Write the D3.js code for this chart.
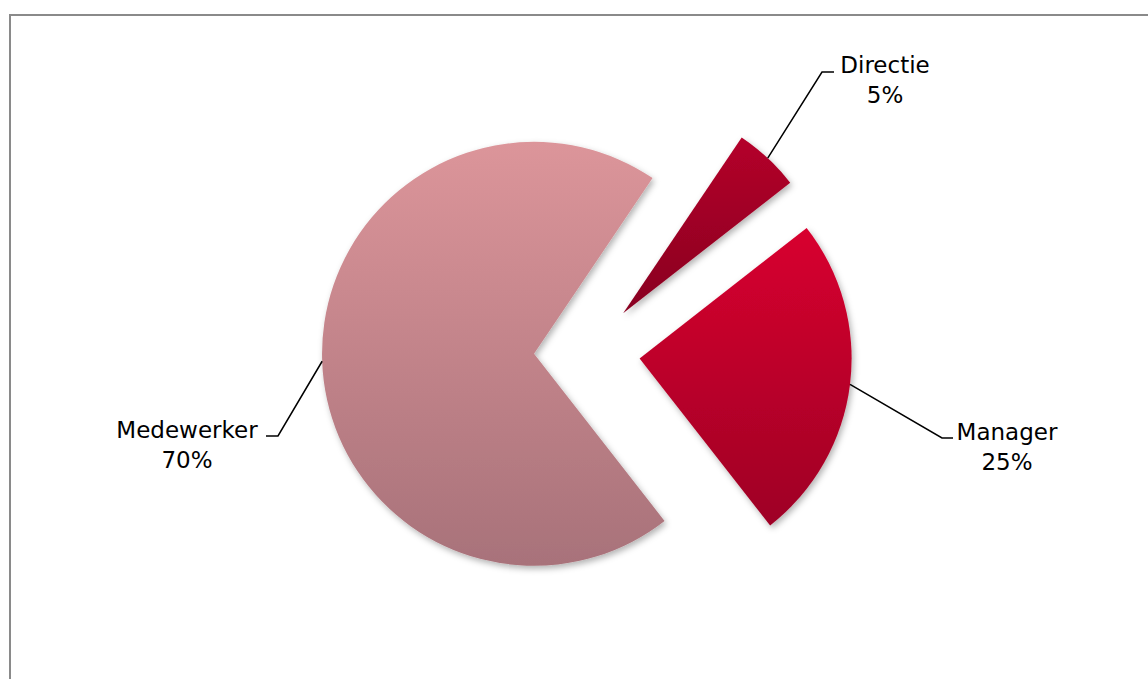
<!DOCTYPE html>
<html>
<head>
<meta charset="utf-8">
<script src="https://cdn.jsdelivr.net/npm/d3@7/dist/d3.min.js"></script>
<style>
  html, body { margin: 0; padding: 0; background: #fff; }
  svg { display: block; }
  text { font-family: "DejaVu Sans", Verdana, sans-serif; fill: #000; }
</style>
</head>
<body>
<svg id="chart" width="1148" height="679"></svg>
<script>
// ---- data ----
const categories = ["Directie", "Manager", "Medewerker"];
const values = [5, 25, 70];
const percentLabels = ["5%", "25%", "70%"];

// ---- styles / layout (not data) ----
const gradTop = ["#b4002a", "#d8002f", "#dc959a"];
const gradBottom = ["#880020", "#9e0025", "#a8727a"];
const labelPos = [
  { x: 885, y: 73, elbow: [[822, 72], [834, 72]] },
  { x: 1007, y: 440, elbow: [[942, 438], [953, 438]] },
  { x: 187, y: 438, elbow: [[278, 436], [266, 436]] }
];

const svg = d3.select("#chart");
const cx = 587, cy = 352, R = 212, explode = 53;
const startDeg = 34;

// border
svg.append("rect")
  .attr("x", 10).attr("y", 15)
  .attr("width", 1150).attr("height", 700)
  .attr("fill", "#fff")
  .attr("stroke", "#8a8a8a")
  .attr("stroke-width", 2);

const defs = svg.append("defs");
const f = defs.append("filter").attr("id", "shadow")
  .attr("x", "-20%").attr("y", "-20%").attr("width", "140%").attr("height", "140%");
f.append("feDropShadow").attr("dx", 2).attr("dy", 3).attr("stdDeviation", 3)
  .attr("flood-color", "#000").attr("flood-opacity", 0.3);

categories.forEach((c, i) => {
  const g = defs.append("linearGradient").attr("id", "grad" + i)
    .attr("x1", 0).attr("y1", 0).attr("x2", 0).attr("y2", 1);
  g.append("stop").attr("offset", "0%").attr("stop-color", gradTop[i]);
  g.append("stop").attr("offset", "100%").attr("stop-color", gradBottom[i]);
});

const pie = d3.pie().sort(null)
  .startAngle(startDeg * Math.PI / 180)
  .endAngle(startDeg * Math.PI / 180 + 2 * Math.PI);
const arcs = pie(values);
const arc = d3.arc().innerRadius(0).outerRadius(R);

const g = svg.append("g").attr("transform", `translate(${cx},${cy})`);

arcs.forEach((a, i) => {
  const mid = (a.startAngle + a.endAngle) / 2;
  const dx = explode * Math.sin(mid), dy = -explode * Math.cos(mid);
  g.append("path")
    .attr("d", arc(a))
    .attr("transform", `translate(${dx},${dy})`)
    .attr("fill", `url(#grad${i})`)
    .attr("filter", "url(#shadow)");
});

// leader lines and labels
arcs.forEach((a, i) => {
  const mid = (a.startAngle + a.endAngle) / 2;
  const ox = cx + (explode + R) * Math.sin(mid);
  const oy = cy - (explode + R) * Math.cos(mid);
  const lp = labelPos[i];
  const pts = [[ox, oy]].concat(lp.elbow);
  svg.append("path")
    .attr("d", d3.line()(pts))
    .attr("fill", "none")
    .attr("stroke", "#000")
    .attr("stroke-width", 1.5);
  const t = svg.append("text")
    .attr("text-anchor", "middle")
    .attr("font-size", 23);
  t.append("tspan").attr("x", lp.x).attr("y", lp.y).text(categories[i]);
  t.append("tspan").attr("x", lp.x).attr("y", lp.y + 30).text(percentLabels[i]);
});
</script>
</body>
</html>
